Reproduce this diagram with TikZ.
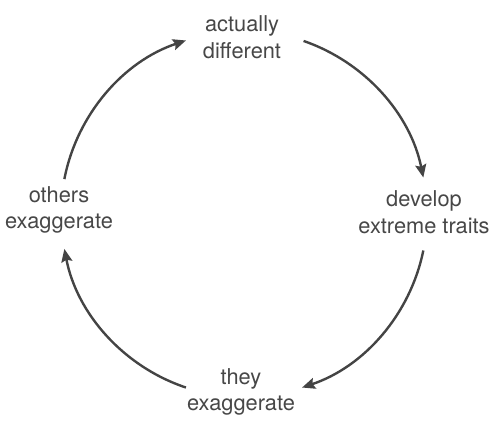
\documentclass[tikz,border=0pt]{standalone}
\usepackage{fontspec}
\setmainfont{TeX Gyre Heros}
\usetikzlibrary{arrows.meta}
\definecolor{txt}{HTML}{474747}
\definecolor{arr}{HTML}{444444}
\begin{document}
\begin{tikzpicture}[x=1pt,y=1pt,
  lbl/.style={align=center,text=txt,font=\fontsize{21.8}{26.5}\selectfont,inner sep=0pt},
  cyc/.style={draw=arr,line width=2.4pt,-{Stealth[length=13pt,width=11pt,inset=2pt]}}]
\useasboundingbox (0,0) rectangle (500,426);
\coordinate (c) at (244,212);
\node[lbl] (top) at (242,389) {actually\\different};
\node[lbl] (right) at (424,214) {develop\\extreme traits};
\node[lbl] (bottom) at (241,34) {they\\exaggerate};
\node[lbl] (left) at (59,216) {others\\exaggerate};
\draw[cyc] (c) ++(71:183) arc[start angle=71,end angle=11.5,radius=183];
\draw[cyc] (c) ++(-11.5:183) arc[start angle=-11.5,end angle=-71.5,radius=183];
\draw[cyc] (c) ++(-108.5:183) arc[start angle=-108.5,end angle=-169,radius=183];
\draw[cyc] (c) ++(169:183) arc[start angle=169,end angle=108.5,radius=183];
\end{tikzpicture}
\end{document}
